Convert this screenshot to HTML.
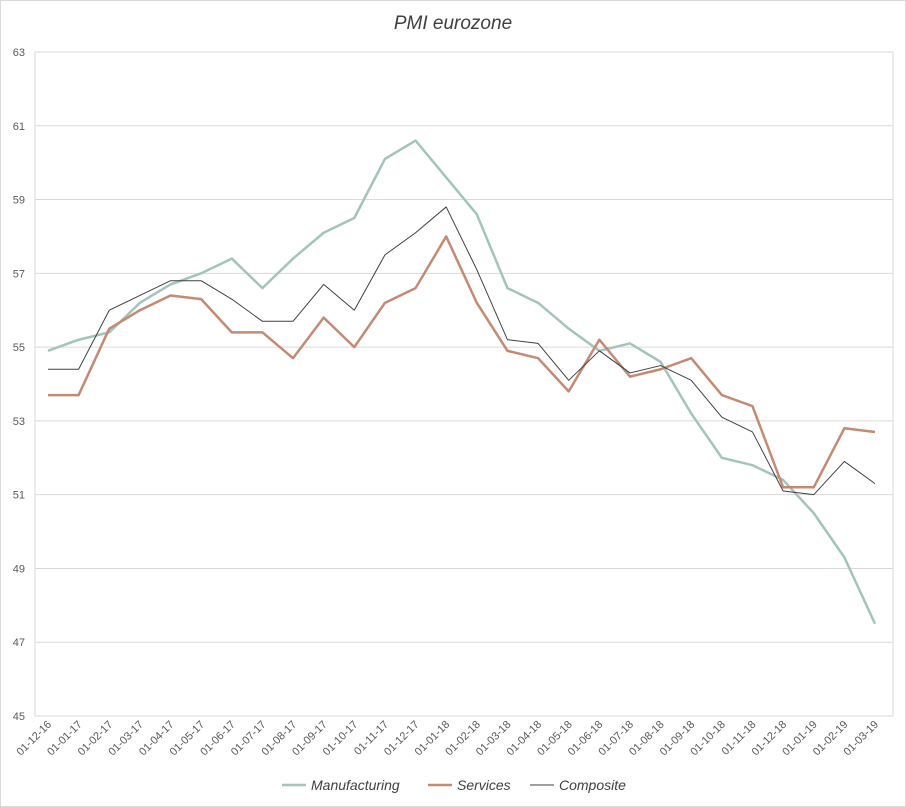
<!DOCTYPE html>
<html><head><meta charset="utf-8"><style>
body{margin:0;background:#fff;}
svg{display:block;font-family:"Liberation Sans",sans-serif;}
</style></head><body>
<svg id="c" width="906" height="807">
<rect x="0.5" y="0.5" width="905" height="806" fill="#fff" stroke="#d9d9d9"/>
<text x="453" y="29" text-anchor="middle" font-size="19" font-style="italic" fill="#404040">PMI  eurozone</text>
<g id="grid"></g><g id="xl"></g><g id="lines"></g>
<g>
<line x1="282" y1="785" x2="306" y2="785" stroke="#a3c4bc" stroke-width="2.5"/>
<text x="311" y="790" font-size="14" font-style="italic" fill="#404040">Manufacturing</text>
<line x1="428" y1="785" x2="452" y2="785" stroke="#c48a73" stroke-width="2.5"/>
<text x="457" y="790" font-size="14" font-style="italic" fill="#404040">Services</text>
<line x1="530" y1="785" x2="554" y2="785" stroke="#404040" stroke-width="1"/>
<text x="559" y="790" font-size="14" font-style="italic" fill="#404040">Composite</text>
</g>
</svg>
<script>
const categories=["01-12-16","01-01-17","01-02-17","01-03-17","01-04-17","01-05-17","01-06-17","01-07-17","01-08-17","01-09-17","01-10-17","01-11-17","01-12-17","01-01-18","01-02-18","01-03-18","01-04-18","01-05-18","01-06-18","01-07-18","01-08-18","01-09-18","01-10-18","01-11-18","01-12-18","01-01-19","01-02-19","01-03-19"];
const manufacturing=[54.9,55.2,55.4,56.2,56.7,57.0,57.4,56.6,57.4,58.1,58.5,60.1,60.6,59.6,58.6,56.6,56.2,55.5,54.9,55.1,54.6,53.2,52.0,51.8,51.4,50.5,49.3,47.5];
const services=[53.7,53.7,55.5,56.0,56.4,56.3,55.4,55.4,54.7,55.8,55.0,56.2,56.6,58.0,56.2,54.9,54.7,53.8,55.2,54.2,54.4,54.7,53.7,53.4,51.2,51.2,52.8,52.7];
const composite=[54.4,54.4,56.0,56.4,56.8,56.8,56.3,55.7,55.7,56.7,56.0,57.5,58.1,58.8,57.1,55.2,55.1,54.1,54.9,54.3,54.5,54.1,53.1,52.7,51.1,51.0,51.9,51.3];
const yTicks=[45,47,49,51,53,55,57,59,61,63];
const NS="http://www.w3.org/2000/svg";
const L=35,R=893,T=52,B=716,yMin=45,yMax=63,X0=48,X1=875;
const x=i=>X0+(X1-X0)*i/(categories.length-1);
const y=v=>B-(v-yMin)/(yMax-yMin)*(B-T);
function mk(t,a,p){const e=document.createElementNS(NS,t);for(const k in a)e.setAttribute(k,a[k]);p.appendChild(e);return e;}
const g=document.getElementById('grid');
yTicks.forEach(v=>{
 const ln=mk('line',{x1:L,x2:R,y1:y(v),y2:y(v),stroke:'#d9d9d9','stroke-width':1},g);
 
 
 const t=mk('text',{x:25,y:y(v)+4,'text-anchor':'end','font-size':11,fill:'#595959'},g);
 t.textContent=v;
 
 
});
mk('line',{x1:R,x2:R,y1:T,y2:B,stroke:'#d9d9d9'},g);
mk('line',{x1:L,x2:L,y1:T,y2:B,stroke:'#d9d9d9'},g);
const xl=document.getElementById('xl');
categories.forEach((c,i)=>{
 const t=mk('text',{x:x(i)+4,y:B+9,'text-anchor':'end','font-size':11,fill:'#595959',transform:`rotate(-45 ${x(i)+4} ${B+9})`},xl);
 t.textContent=c;
 
 
});
const lg=document.getElementById('lines');
[[manufacturing,'#a3c4bc',2.5,'line-manufacturing'],[services,'#c48a73',2.5,'line-services'],[composite,'#404040',1,'line-composite']].forEach(([d,col,w,n])=>{
 const p=mk('polyline',{points:d.map((v,i)=>x(i)+','+y(v)).join(' '),fill:'none',stroke:col,'stroke-width':w,'stroke-linejoin':'round'},lg);
 
 
});
</script>
</body></html>
